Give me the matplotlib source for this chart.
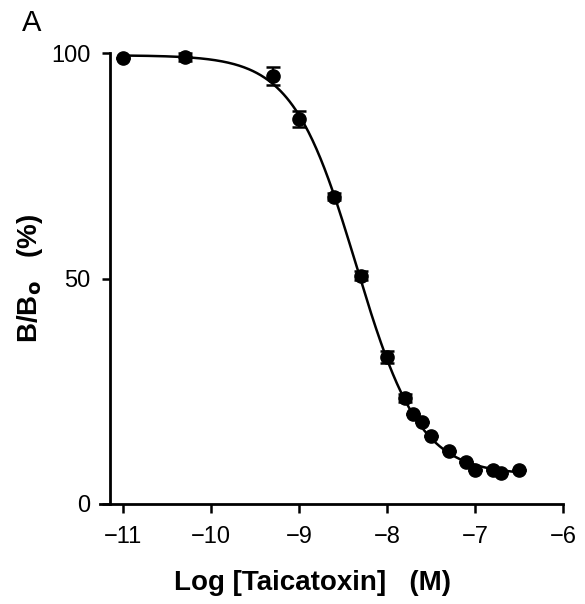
import numpy as np
import matplotlib
matplotlib.use("Agg")
import matplotlib.pyplot as plt

# Data
log_conc = [-11.0, -10.3, -9.3, -9.0, -8.6, -8.3, -8.0, -7.8, -7.7, -7.6,
            -7.5, -7.3, -7.1, -7.0, -6.8, -6.7, -6.5]
b_b0 = [99.0, 99.1, 94.9, 85.4, 68.1, 50.6, 32.6, 23.5, 20.0, 18.2,
        15.1, 11.8, 9.3, 7.5, 7.5, 6.9, 7.5]
err = [0.0, 0.8, 2.1, 1.7, 0.8, 1.0, 1.3, 0.8, 0.0, 0.0,
       0.0, 0.0, 0.0, 0.0, 0.0, 0.0, 0.0]

# Fitted sigmoid parameters (curve through the points)
fit_top = 99.5
fit_bottom = 6.5
fit_logic50 = -8.35
fit_hill = 1.2

xticks = [-11, -10, -9, -8, -7, -6]
yticks = [0, 50, 100]

plt.rcParams['font.family'] = ['Liberation Sans', 'DejaVu Sans']

fig = plt.figure(figsize=(5.85, 6.04), dpi=100)
ax = fig.add_axes([100/585, 1 - 504/604, (563-100)/585, (504-53)/604])

xc = np.linspace(min(log_conc), max(log_conc), 400)
yc = fit_bottom + (fit_top - fit_bottom) / (1 + 10 ** ((xc - fit_logic50) * fit_hill))
ax.plot(xc, yc, color='black', lw=1.8, clip_on=False, zorder=2)

ax.errorbar(log_conc, b_b0, yerr=err, fmt='o', color='black', ms=9.5,
            ecolor='black', elinewidth=1.6, capsize=5, capthick=1.8,
            clip_on=False, zorder=3)

ax.set_xlim(-11.26, -6)
ax.set_ylim(0, 100)
ax.spines['top'].set_visible(False)
ax.spines['right'].set_visible(False)
ax.spines['left'].set_position(('data', -11.15))
ax.spines['left'].set_linewidth(2.0)
ax.spines['bottom'].set_linewidth(2.0)

ax.set_xticks(xticks)
ax.set_xticklabels(['\u2212' + str(abs(t)) for t in xticks])
ax.set_yticks(yticks)
ax.set_yticklabels([str(t) for t in yticks])
ax.tick_params(axis='x', direction='out', length=6.5, width=1.8, pad=9, labelsize=17)
ax.tick_params(axis='y', direction='out', length=6, width=1.8, pad=8, labelsize=17)

fig.text(313/585, 1 - 583/604, 'Log [Taicatoxin]   (M)', ha='center', va='center',
         fontsize=20, fontweight='bold')
fig.text(30/585, 1 - 278/604, 'B/B$_\\mathbf{o}$   (%)', ha='center', va='center',
         rotation=90, fontsize=20, fontweight='bold')
fig.text(22/585, 1 - 23/604, 'A', ha='left', va='center', fontsize=21)

fig.savefig('out.png', dpi=100)
